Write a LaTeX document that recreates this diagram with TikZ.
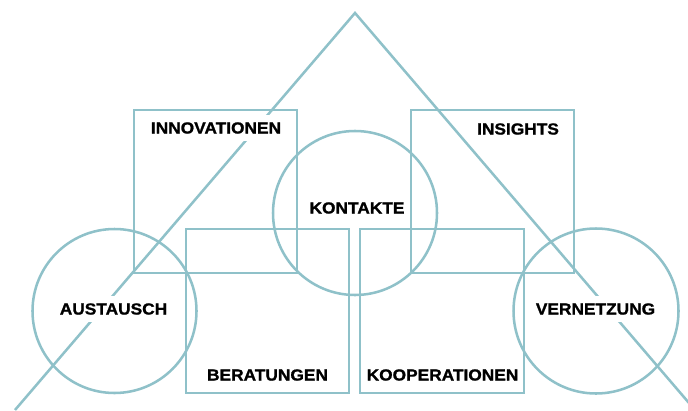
\documentclass[tikz,border=0pt]{standalone}
\usepackage{fontspec}
\setmainfont[FakeStretch=1.08,FakeBold=1.2]{Liberation Sans}
\definecolor{teal}{RGB}{143,193,201}

\begin{document}
\begin{tikzpicture}[x=0.025cm,y=0.025cm,line width=1.8pt]
\tikzset{label/.style={fill=white,font=\fontsize{11.4}{13}\selectfont\bfseries,inner xsep=3pt,inner ysep=5pt}}
\useasboundingbox (0,0) rectangle (688,410);

% Draw the big triangle, cut off at the picture edge.
\begin{scope}
\clip (0,0) rectangle (688,410);
\draw[color=teal] (15,0) -- (355,397) -- (695,0);
\end{scope}

% Draw the four boxes.
\draw[color=teal] (134,137) rectangle (297,300);
\draw[color=teal] (411,137) rectangle (574,300);
\draw[color=teal] (186,17) rectangle (349,181);
\draw[color=teal] (360,17) rectangle (524,181);

% Draw the three circles.
\draw[color=teal] (114.5,99) circle (82);
\draw[color=teal] (355,197) circle (82);
\draw[color=teal] (596,99) circle (82.5);

\node [label] (innov) at (216,282) {INNOVATIONEN};
\node [label] (insights) at (518,281) {INSIGHTS};
\node [label] (kontakte) at (357,202) {KONTAKTE};
\node [label] (austausch) at (113.5,101) {AUSTAUSCH};
\node [label] (vernetzung) at (595.5,101) {VERNETZUNG};
\node [label] (beratung) at (267.5,35) {BERATUNGEN};
\node [label] (koop) at (442.5,35) {KOOPERATIONEN};

\end{tikzpicture}
\end{document}
